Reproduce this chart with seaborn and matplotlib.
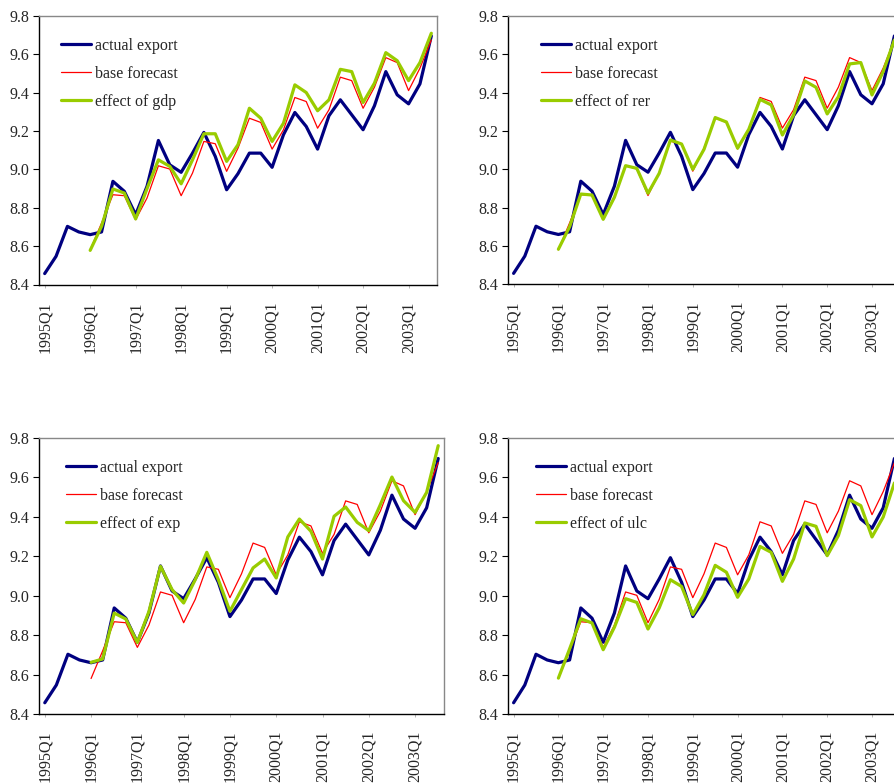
import numpy as np
import pandas as pd
import matplotlib
matplotlib.use("Agg")
import matplotlib.pyplot as plt
import seaborn as sns

# quarterly data 1995Q1 .. 2003Q3 (log exports)
year_labels = ["1995Q1", "1996Q1", "1997Q1", "1998Q1", "1999Q1",
               "2000Q1", "2001Q1", "2002Q1", "2003Q1"]

actual = [8.457, 8.547, 8.703, 8.674, 8.660, 8.674, 8.938, 8.886, 8.764, 8.912,
          9.151, 9.024, 8.985, 9.085, 9.193, 9.068, 8.894, 8.978, 9.085, 9.085,
          9.011, 9.181, 9.297, 9.224, 9.106, 9.280, 9.363, 9.285, 9.207, 9.332,
          9.510, 9.389, 9.342, 9.446, 9.696]

# forecasts start in 1996Q1 (index 4)
base = [8.58, 8.72, 8.868, 8.863, 8.738, 8.851, 9.019, 9.002, 8.863, 8.981,
        9.146, 9.134, 8.990, 9.111, 9.267, 9.245, 9.106, 9.207, 9.375, 9.354,
        9.215, 9.311, 9.481, 9.463, 9.319, 9.429, 9.583, 9.557, 9.411, 9.528, 9.675]

eff_gdp = [8.578, 8.703, 8.898, 8.877, 8.742, 8.90, 9.050, 9.016, 8.925, 9.05,
           9.186, 9.186, 9.042, 9.129, 9.319, 9.267, 9.146, 9.241, 9.441, 9.401,
           9.306, 9.363, 9.522, 9.510, 9.349, 9.450, 9.609, 9.567, 9.463, 9.557, 9.710]

eff_rer = [8.583, 8.70, 8.871, 8.866, 8.739, 8.854, 9.019, 9.005, 8.875, 8.979,
           9.153, 9.132, 9.000, 9.104, 9.270, 9.247, 9.110, 9.209, 9.365, 9.336,
           9.179, 9.284, 9.461, 9.428, 9.289, 9.379, 9.550, 9.557, 9.388, 9.510, 9.675]

eff_exp = [8.662, 8.679, 8.912, 8.882, 8.763, 8.92, 9.149, 9.031, 8.963, 9.081,
           9.220, 9.081, 8.921, 9.031, 9.141, 9.186, 9.090, 9.298, 9.389, 9.327,
           9.186, 9.403, 9.450, 9.372, 9.330, 9.462, 9.602, 9.482, 9.423, 9.524, 9.761]

eff_ulc = [8.582, 8.73, 8.883, 8.862, 8.726, 8.84, 8.985, 8.966, 8.831, 8.938,
           9.081, 9.047, 8.904, 9.005, 9.154, 9.119, 8.992, 9.085, 9.250, 9.220,
           9.073, 9.186, 9.369, 9.352, 9.203, 9.305, 9.487, 9.457, 9.298, 9.399, 9.572]

panels = [("gdp", eff_gdp), ("rer", eff_rer), ("exp", eff_exp), ("ulc", eff_ulc)]

sns.set_style("white")
plt.rcParams["font.family"] = ["Liberation Serif", "DejaVu Serif"]
plt.rcParams["font.size"] = 11.5

W, H = 895, 784
fig = plt.figure(figsize=(W / 100, H / 100), dpi=100)

# axes boxes in pixels: left, top, right, bottom ; legend offset (dx, dy) in px
boxes = [(39, 16, 437, 284.5, 22, 22),
         (508, 16, 900, 284.3, 33, 22),
         (39, 438, 444, 714, 27, 22),
         (508, 438, 900, 714, 28, 22)]

n = len(actual)
idx = np.arange(n)
start = n - len(base)

for (name, eff), (l, t, r, b, lx, ly) in zip(panels, boxes):
    ax = fig.add_axes([l / W, 1 - b / H, (r - l) / W, (b - t) / H])
    df = pd.DataFrame({"q": idx, "actual": actual,
                       "base": [np.nan] * start + base,
                       "eff": [np.nan] * start + eff})
    sns.lineplot(data=df, x="q", y="actual", ax=ax, color="#000080", lw=2.3,
                 label="actual export")
    sns.lineplot(data=df.dropna(), x="q", y="base", ax=ax, color="#ff0000", lw=0.9,
                 label="base forecast")
    sns.lineplot(data=df.dropna(), x="q", y="eff", ax=ax, color="#99cc00", lw=2.3,
                 label="effect of " + name)

    ax.set_xlim(-0.5, n - 0.5)
    ax.set_ylim(8.4, 9.8)
    ax.set_yticks(np.arange(8.4, 9.81, 0.2))
    ax.set_yticklabels([f"{v:.1f}" for v in np.arange(8.4, 9.81, 0.2)])
    ax.set_xticks(np.arange(0, n, 4))
    ax.set_xticklabels(year_labels, rotation=90, va="top", ha="center")
    ax.set_xlabel("")
    ax.set_ylabel("")
    ax.tick_params(axis="y", length=4, width=0.8, pad=3, color="black", left=True)
    ax.tick_params(axis="x", length=2, width=0.6, pad=10, color="#aaaaaa", bottom=True)
    for s in ["left", "bottom"]:
        ax.spines[s].set_color("black")
        ax.spines[s].set_linewidth(1.0)
    for s in ["top", "right"]:
        ax.spines[s].set_color("#888888")
        ax.spines[s].set_linewidth(1.0)

    ax.legend(loc="upper left",
              bbox_to_anchor=(lx / (r - l), 1 - ly / (b - t)),
              frameon=False, borderpad=0, borderaxespad=0,
              handlelength=1.9, handletextpad=0.2, labelspacing=0.75,
              fontsize=11.5)

fig.savefig("out.png", dpi=100)
